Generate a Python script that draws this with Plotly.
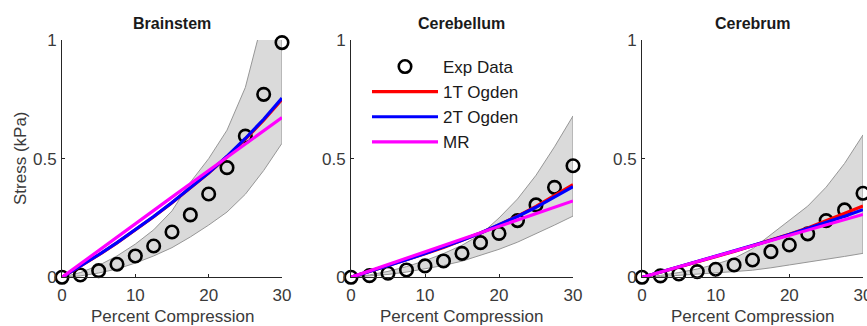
import plotly.graph_objects as go

# ---------------- data ----------------
compression = [0, 2.5, 5, 7.5, 10, 12.5, 15, 17.5, 20, 22.5, 25, 27.5, 30]

panels = ["Brainstem", "Cerebellum", "Cerebrum"]

exp_brainstem = [0, 0.01, 0.028, 0.055, 0.09, 0.132, 0.191, 0.263, 0.351, 0.462, 0.595, 0.771, 0.989]
upper_brainstem = [0, 0.02, 0.05, 0.09, 0.14, 0.2, 0.28, 0.40, 0.50, 0.62, 0.80, 1.1, 1.4]
lower_brainstem = [0, 0.006, 0.018, 0.035, 0.06, 0.09, 0.125, 0.17, 0.22, 0.275, 0.35, 0.45, 0.565]
ogden1_brainstem = [0, 0.046, 0.094, 0.145, 0.199, 0.255, 0.314, 0.375, 0.439, 0.508, 0.582, 0.662, 0.75]
ogden2_brainstem = [0, 0.047, 0.095, 0.146, 0.2, 0.256, 0.315, 0.376, 0.44, 0.51, 0.585, 0.666, 0.755]
mr_brainstem = [0, 0.057, 0.114, 0.17, 0.226, 0.282, 0.338, 0.394, 0.45, 0.506, 0.562, 0.617, 0.673]

exp_cerebellum = [0, 0.007, 0.017, 0.031, 0.048, 0.069, 0.101, 0.146, 0.185, 0.239, 0.305, 0.379, 0.47]
upper_cerebellum = [0, 0.01, 0.025, 0.045, 0.07, 0.1, 0.135, 0.18, 0.25, 0.33, 0.43, 0.55, 0.68]
lower_cerebellum = [0, 0.005, 0.012, 0.022, 0.035, 0.05, 0.068, 0.092, 0.118, 0.148, 0.185, 0.22, 0.258]
ogden1_cerebellum = [0, 0.024, 0.048, 0.073, 0.099, 0.126, 0.155, 0.187, 0.221, 0.258, 0.299, 0.343, 0.39]
ogden2_cerebellum = [0, 0.024, 0.049, 0.074, 0.1, 0.127, 0.156, 0.187, 0.22, 0.256, 0.295, 0.337, 0.382]
mr_cerebellum = [0, 0.027, 0.054, 0.081, 0.107, 0.134, 0.161, 0.188, 0.215, 0.242, 0.268, 0.295, 0.322]

exp_cerebrum = [0, 0.006, 0.014, 0.024, 0.034, 0.052, 0.073, 0.108, 0.136, 0.183, 0.239, 0.284, 0.354]
upper_cerebrum = [0, 0.008, 0.02, 0.035, 0.055, 0.08, 0.12, 0.18, 0.24, 0.3, 0.38, 0.48, 0.6]
lower_cerebrum = [0, 0.003, 0.007, 0.012, 0.018, 0.024, 0.03, 0.04, 0.052, 0.063, 0.075, 0.088, 0.101]
ogden1_cerebrum = [0, 0.021, 0.043, 0.065, 0.087, 0.109, 0.132, 0.156, 0.181, 0.208, 0.238, 0.268, 0.3]
ogden2_cerebrum = [0, 0.022, 0.044, 0.066, 0.088, 0.11, 0.133, 0.156, 0.18, 0.205, 0.23, 0.257, 0.285]
mr_cerebrum = [0, 0.022, 0.044, 0.066, 0.088, 0.11, 0.132, 0.155, 0.177, 0.199, 0.221, 0.243, 0.265]

x_ticks = [0, 10, 20, 30]
y_ticks = [0, 0.5, 1]
y_tick_labels = ["0", "0.5", "1"]

series_names = ["Exp Data", "1T Ogden", "2T Ogden", "MR"]
x_title = "Percent Compression"
y_title = "Stress (kPa)"

# ---------------- figure ----------------
W, H = 867, 326
FONT = "Liberation Sans, Arial, sans-serif"
AX = "#262626"
TXT = "#3a3a3a"

data = [
    (exp_brainstem, upper_brainstem, lower_brainstem, ogden1_brainstem, ogden2_brainstem, mr_brainstem),
    (exp_cerebellum, upper_cerebellum, lower_cerebellum, ogden1_cerebellum, ogden2_cerebellum, mr_cerebellum),
    (exp_cerebrum, upper_cerebrum, lower_cerebrum, ogden1_cerebrum, ogden2_cerebrum, mr_cerebrum),
]

x_px = [(62, 282), (351, 573), (642, 863)]
y_px = (40, 277.3)  # top, bottom (pixels from top)

fig = go.Figure()

for i, (exp, up, lo, o1, o2, mr) in enumerate(data):
    ax = "" if i == 0 else str(i + 1)
    xa, ya = "x" + ax, "y" + ax
    legend_on = (i == 1)
    fig.add_trace(go.Scatter(
        x=compression + compression[::-1], y=up + lo[::-1],
        xaxis=xa, yaxis=ya, mode="lines", fill="toself",
        fillcolor="rgb(218,218,218)", line=dict(color="rgb(150,150,150)", width=1),
        showlegend=False, hoverinfo="skip"))
    fig.add_trace(go.Scatter(
        x=compression, y=exp, xaxis=xa, yaxis=ya, mode="markers",
        name=series_names[0], showlegend=legend_on, cliponaxis=False,
        marker=dict(symbol="circle-open", size=12.5, color="black", line=dict(width=2.6, color="black"))))
    for vals, name, col in ((o1, series_names[1], "#ff0000"),
                            (o2, series_names[2], "#0000ff"),
                            (mr, series_names[3], "#ff00ff")):
        fig.add_trace(go.Scatter(
            x=compression, y=vals, xaxis=xa, yaxis=ya, mode="lines",
            name=name, showlegend=legend_on, line=dict(color=col, width=3.2)))

    xd = [x_px[i][0] / W, x_px[i][1] / W]
    yd = [(H - y_px[1]) / H, (H - y_px[0]) / H]
    common = dict(showgrid=False, zeroline=False, showline=True, linecolor=AX, linewidth=1,
                  ticks="inside", ticklen=3, tickcolor=AX, automargin=False,
                  ticklabeloverflow="allow",
                  tickfont=dict(family=FONT, size=17, color=TXT))
    fig.layout["xaxis" + ax] = dict(domain=xd, range=[0, 30], tickvals=x_ticks,
                                    anchor=ya, ticklabelstandoff=2, **common)
    fig.layout["yaxis" + ax] = dict(domain=yd, range=[0, 1], tickvals=y_ticks,
                                    ticktext=y_tick_labels, anchor=xa, ticklabelstandoff=1, **common)
    cx = (x_px[i][0] + x_px[i][1]) / 2 / W
    fig.add_annotation(text="<b>%s</b>" % panels[i], x=cx, y=(H - 23) / H, xref="paper", yref="paper",
                       showarrow=False, font=dict(family=FONT, size=16, color="#1a1a1a"),
                       xanchor="center", yanchor="middle")
    fig.add_annotation(text=x_title, x=cx, y=(H - 316) / H, xref="paper", yref="paper",
                       showarrow=False, font=dict(family=FONT, size=17, color=TXT),
                       xanchor="center", yanchor="middle")

fig.add_annotation(text=y_title, x=20 / W, y=(H - 158) / H, xref="paper", yref="paper",
                   showarrow=False, textangle=-90, font=dict(family=FONT, size=17, color=TXT),
                   xanchor="center", yanchor="middle")

fig.update_layout(
    width=W, height=H, margin=dict(l=0, r=0, t=0, b=0),
    paper_bgcolor="white", plot_bgcolor="white",
    showlegend=True,
    legend=dict(x=367 / W, y=(H - 49) / H, xanchor="left", yanchor="top",
                bgcolor="rgba(0,0,0,0)", font=dict(family=FONT, size=17, color="#1a1a1a"),
                itemwidth=66, tracegroupgap=0),
)

fig.write_html("out.html",
               post_script="document.body.style.margin='0px';document.body.style.overflow='hidden';")
